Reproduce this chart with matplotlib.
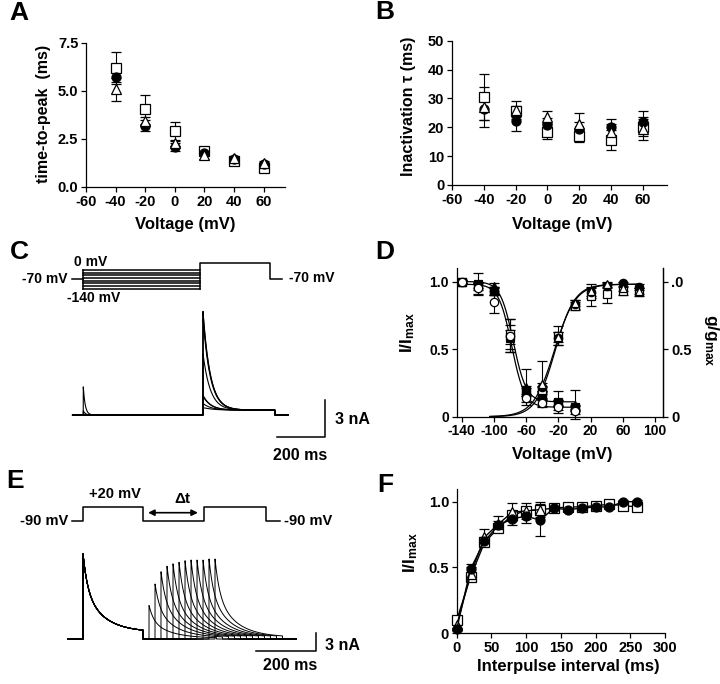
import numpy as np
import matplotlib
matplotlib.use('Agg')
import matplotlib.pyplot as plt

plt.rcParams['font.family'] = 'Liberation Sans'
plt.rcParams['font.weight'] = 'bold'
plt.rcParams['axes.unicode_minus'] = False
plt.rcParams['mathtext.fontset'] = 'custom'
plt.rcParams['mathtext.rm'] = 'Liberation Sans:bold'
plt.rcParams['mathtext.it'] = 'Liberation Sans:bold'
plt.rcParams['mathtext.default'] = 'rm'

W, H = 720, 684

# ---------------- A: time-to-peak ----------------
volt_ab = [-40, -20, 0, 20, 40, 60]
ttp_circle = [5.75, 3.2, 2.1, 1.75, 1.45, 1.2]
ttp_circle_err = [0.3, 0.3, 0.2, 0.1, 0.1, 0.1]
ttp_square = [6.2, 4.05, 2.9, 1.85, 1.35, 1.0]
ttp_square_err = [0.85, 0.75, 0.5, 0.1, 0.1, 0.1]
ttp_triangle = [5.1, 3.45, 2.3, 1.65, 1.5, 1.25]
ttp_triangle_err = [0.6, 0.2, 0.15, 0.2, 0.1, 0.1]

# ---------------- B: inactivation tau ----------------
tau_circle = [26.5, 22.3, 20.8, 19.5, 20.0, 22.0]
tau_circle_err = [4.0, 3.7, 2.5, 2.5, 3.0, 3.8]
tau_square = [30.5, 25.5, 18.5, 17.0, 15.5, 20.0]
tau_square_err = [8.0, 2.0, 2.5, 2.0, 3.5, 3.0]
tau_triangle = [27.0, 26.0, 23.5, 21.0, 18.5, 19.5]
tau_triangle_err = [7.0, 3.0, 2.0, 3.8, 2.5, 4.0]

# ---------------- D: steady-state inactivation / activation ----------------
volt_inact = [-140, -120, -100, -80, -60, -40, -20, 0]
inact_osquare = [1.0, 0.97, 0.93, 0.61, 0.18, 0.15, 0.10, 0.06]
inact_osquare_err = [0.01, 0.03, 0.03, 0.11, 0.03, 0.03, 0.02, 0.02]
inact_fsquare = [1.0, 0.98, 0.93, 0.59, 0.19, 0.18, 0.11, 0.07]
inact_fsquare_err = [0.01, 0.08, 0.03, 0.05, 0.04, 0.04, 0.08, 0.02]
inact_ftriangle = [1.0, 0.97, 0.97, 0.58, 0.22, 0.16, 0.10, 0.09]
inact_ftriangle_err = [0.01, 0.02, 0.02, 0.10, 0.13, 0.03, 0.02, 0.11]
inact_ocircle = [1.0, 0.95, 0.85, 0.60, 0.14, 0.10, 0.07, 0.04]
inact_ocircle_err = [0.01, 0.04, 0.08, 0.12, 0.03, 0.02, 0.02, 0.02]
inact_vh = [-76, -78]
inact_k = [8, 8]
inact_floor = [0.11, 0.07]
inact_top = [1.0, 0.98]

volt_act = [-40, -20, 0, 20, 40, 60, 80]
act_fcircle = [0.22, 0.58, 0.83, 0.92, 0.97, 0.99, 0.96]
act_fcircle_err = [0.03, 0.05, 0.03, 0.03, 0.02, 0.01, 0.02]
act_osquare = [0.20, 0.60, 0.82, 0.89, 0.91, 0.93, 0.92]
act_osquare_err = [0.03, 0.07, 0.03, 0.07, 0.07, 0.03, 0.03]
act_otriangle = [0.24, 0.59, 0.84, 0.93, 0.98, 0.95, 0.93]
act_otriangle_err = [0.17, 0.04, 0.02, 0.05, 0.02, 0.02, 0.02]
act_vh = [-25, -24]
act_k = [13, 12]
act_top = [0.98, 0.98]

# ---------------- F: recovery from inactivation ----------------
interval_ms = [0, 20, 40, 60, 80, 100, 120, 140, 160, 180, 200, 220, 240, 260]
rec_square = [0.10, 0.43, 0.69, 0.80, 0.90, 0.93, 0.94, 0.95, 0.96, 0.96, 0.97, 0.98, 0.97, 0.96]
rec_square_err = [0.02, 0.03, 0.02, 0.02, 0.02, 0.02, 0.02, 0.01, 0.01, 0.01, 0.01, 0.01, 0.01, 0.01]
interval_tri = [0, 20, 40, 60, 80, 100, 120]
rec_triangle = [0.06, 0.45, 0.73, 0.83, 0.92, 0.93, 0.94]
rec_triangle_err = [0.02, 0.05, 0.06, 0.06, 0.07, 0.06, 0.06]
rec_circle = [0.03, 0.49, 0.70, 0.82, 0.87, 0.89, 0.86, 0.95, 0.94, 0.95, 0.96, 0.96, 1.0, 1.0]
rec_circle_err = [0.01, 0.04, 0.03, 0.03, 0.05, 0.05, 0.12, 0.01, 0.01, 0.01, 0.01, 0.01, 0.01, 0.01]

# ---------------- C: protocol and currents ----------------
c_hold = -70
c_cond_levels = [0, -20, -40, -60, -80, -100, -120, -140]
c_test_level = 50          # drawn level of the test step in the schematic
c_times = [-48, 0, 500, 800, 851]
c_cond_peak = [2.3, 0.35, 0.05, 0, 0, 0, 0, 0]      # nA
c_test_avail = [0.07, 0.11, 0.18, 0.19, 0.59, 0.93, 0.98, 1.0]
c_test_peak = 8.5          # nA
c_plateau = 0.4            # nA
c_tau_cond, c_tau_test, c_tau_rise = 8, 30, 25

# ---------------- E: protocol and currents ----------------
e_hold, e_step = -90, 20
e_times = [-37, 0, 200, 403, 610, 657]
e_dt = [20, 40, 60, 80, 100, 120, 140, 160, 180, 200, 220, 240]
e_ratio = [0.42, 0.69, 0.84, 0.91, 0.94, 0.96, 0.98, 0.99, 0.99, 0.99, 1.0, 1.0]
e_peak = 14.2              # nA
e_fast, e_slow = 0.40, 0.52
e_ss_first, e_ss_second = 0.08, 0.02
e_tau_fast, e_tau_slow = 15, 65
e_pulse_first, e_pulse_second = 200, 225

fig = plt.figure(figsize=(W / 100, H / 100), dpi=100)


def px_axes(x0, y0, x1, y1):
    return fig.add_axes([x0 / W, 1 - y1 / H, (x1 - x0) / W, (y1 - y0) / H])


def ftext(x, y, s, ha='center', va='center', **kw):
    fig.text(x / W, 1 - y / H, s, ha=ha, va=va, **kw)


def style(ax, right=False, size=10.5):
    ax.spines['top'].set_visible(False)
    ax.spines['right'].set_visible(right)
    for s in ax.spines.values():
        s.set_linewidth(0.9)
    ax.tick_params(direction='out', length=3.5, width=0.9, labelsize=size, pad=2)


MK = dict(
    circle=dict(marker='o', mfc='black', mec='black'),
    ocircle=dict(marker='o', mfc='white', mec='black'),
    square=dict(marker='s', mfc='white', mec='black'),
    fsquare=dict(marker='s', mfc='black', mec='black'),
    triangle=dict(marker='^', mfc='white', mec='black'),
    ftriangle=dict(marker='^', mfc='black', mec='black'),
)


def ebar(ax, x, y, e, kind, ms=6.5, ls='none'):
    ax.errorbar(x, y, yerr=e, ls=ls, color='black', lw=1, ms=ms, mew=0.9,
                ecolor='black', elinewidth=0.8, capsize=3.5, capthick=0.8,
                clip_on=False, zorder=3, **MK[kind])


def boltz(v, vh, k, lo, hi):
    return lo + (hi - lo) / (1 + np.exp((v - vh) / k))


# ---- A ----
axA = px_axes(86, 43, 285, 187)
style(axA)
ebar(axA, volt_ab, ttp_square, ttp_square_err, 'square')
ebar(axA, volt_ab, ttp_circle, ttp_circle_err, 'circle')
ebar(axA, volt_ab, ttp_triangle, ttp_triangle_err, 'triangle')
axA.set_xlim(-60, 74.5)
axA.set_ylim(0, 7.5)
axA.set_xticks([-60, -40, -20, 0, 20, 40, 60])
axA.set_yticks([0, 2.5, 5.0, 7.5])
axA.set_yticklabels(['0.0', '2.5', '5.0', '7.5'])
ftext(44, 114, 'time-to-peak  (ms)', rotation=90, fontsize=11.5)
ftext(185, 225, 'Voltage (mV)', fontsize=12)

# ---- B ----
axB = px_axes(452, 40.7, 666.7, 185)
style(axB)
ebar(axB, volt_ab, tau_square, tau_square_err, 'square')
ebar(axB, volt_ab, tau_circle, tau_circle_err, 'circle')
ebar(axB, volt_ab, tau_triangle, tau_triangle_err, 'triangle')
axB.set_xlim(-60, 75)
axB.set_ylim(0, 50)
axB.set_xticks([-60, -40, -20, 0, 20, 40, 60])
axB.set_yticks([0, 10, 20, 30, 40, 50])
ftext(409, 106, 'Inactivation \u03c4 (ms)', rotation=90, fontsize=11.5)
ftext(562, 225, 'Voltage (mV)', fontsize=12)

# ---- C protocol ----
axCp = px_axes(60, 250, 360, 300)
axCp.axis('off')
t0, t1, t2, t3, t4 = c_times
axCp.plot([t0, t1], [c_hold, c_hold], color='black', lw=1.1)
for lev in c_cond_levels:
    axCp.plot([t1, t2], [lev, lev], color='black', lw=1.1)
axCp.plot([t1, t1], [min(c_cond_levels), max(c_cond_levels)], color='black', lw=1.1)
axCp.plot([t2, t2, t3, t3, t4], [min(c_cond_levels), c_test_level, c_test_level, c_hold, c_hold],
          color='black', lw=1.1)
axCp.set_xlim(-99.8, 1185.5)
axCp.set_ylim(-222.5, 145.9)
ftext(74, 262, '0 mV', ha='left', fontsize=10)
ftext(67, 279, '-70 mV', ha='right', fontsize=10)
ftext(67, 298, '-140 mV', ha='left', fontsize=10)
ftext(289, 278, '-70 mV', ha='left', fontsize=10)

# ---- C currents ----
axC = px_axes(60, 290, 360, 470)
axC.axis('off')
tc = np.linspace(-45, 855, 4000)
for a_cond, avail in zip(c_cond_peak, c_test_avail):
    cur = np.zeros_like(tc)
    m1 = (tc >= t1) & (tc < t2)
    cur[m1] = a_cond * np.exp(-(tc[m1] - t1) / c_tau_cond)
    m2 = (tc >= t2) & (tc < t3)
    s = tc[m2] - t2
    cur[m2] = c_test_peak * avail * np.exp(-s / c_tau_test) + c_plateau * (1 - np.exp(-s / c_tau_rise))
    axC.plot(tc, cur, color='black', lw=0.8)
axC.plot([810, 1010, 1010], [-1.8, -1.8, 1.2], color='black', lw=1.1)
axC.set_xlim(-97.3, 1155.8)
axC.set_ylim(-4.5, 10.22)
ftext(335, 420, '3 nA', ha='left', fontsize=11.5)
ftext(300, 455, '200 ms', fontsize=11.5)

# ---- D ----
axD = px_axes(456.7, 268, 663.3, 416.7)
style(axD, right=True, size=10)
vi = np.linspace(-140, 0, 300)
for vh, k, lo, hi in zip(inact_vh, inact_k, inact_floor, inact_top):
    axD.plot(vi, boltz(vi, vh, k, lo, hi), color='black', lw=0.9)
va = np.linspace(-105, 80, 300)
for vh, k, hi in zip(act_vh, act_k, act_top):
    axD.plot(va, boltz(va, vh, -k, 0, hi), color='black', lw=0.9)
ebar(axD, volt_inact, inact_osquare, inact_osquare_err, 'square', ms=6)
ebar(axD, volt_inact, inact_fsquare, inact_fsquare_err, 'fsquare', ms=6)
ebar(axD, volt_inact, inact_ftriangle, inact_ftriangle_err, 'ftriangle', ms=6)
ebar(axD, volt_inact, inact_ocircle, inact_ocircle_err, 'ocircle', ms=6)
ebar(axD, volt_act, act_osquare, act_osquare_err, 'square', ms=6)
ebar(axD, volt_act, act_fcircle, act_fcircle_err, 'circle', ms=6)
ebar(axD, volt_act, act_otriangle, act_otriangle_err, 'triangle', ms=6)
axD.set_xlim(-146.2, 110.1)
axD.set_ylim(0, 1.10)
axD.set_xticks([-140, -100, -60, -20, 20, 60, 100])
axD.set_yticks([0, 0.5, 1.0])
axD.set_yticklabels(['0', '0.5', '1.0'])
axD2 = axD.twinx()
axD2.set_ylim(0, 1.10)
style(axD2, right=True, size=10.5)
axD2.spines['left'].set_visible(False)
axD2.spines['bottom'].set_visible(False)
axD2.set_yticks([0, 0.5, 1.0])
axD2.set_yticklabels(['0', '0.5', '.0'])
ftext(408, 333, 'I/I$_{max}$', rotation=90, fontsize=12.5)
ftext(711, 340, 'g/g$_{max}$', rotation=270, fontsize=12.5)
ftext(562, 455, 'Voltage (mV)', fontsize=12)

# ---- E protocol ----
axEp = px_axes(60, 480, 360, 530)
axEp.axis('off')
ex, ey = [], []
levels_e = [e_hold, e_step, e_hold, e_step, e_hold]
for i, lev in enumerate(levels_e):
    ex += [e_times[i], e_times[i + 1]]
    ey += [lev, lev]
axEp.plot(ex, ey, color='black', lw=1.1)
axEp.annotate('', xy=(e_times[3] - 20, -27), xytext=(e_times[2] + 17, -27),
              arrowprops=dict(arrowstyle='<|-|>', color='black', lw=1.2,
                              mutation_scale=9, shrinkA=0, shrinkB=0))
axEp.set_xlim(-76.7, 923.3)
axEp.set_ylim(-163.2, 230.5)
ftext(68, 521, '-90 mV', ha='right', fontsize=10.5)
ftext(284, 521, '-90 mV', ha='left', fontsize=10.5)
ftext(115, 494, '+20 mV', fontsize=10.5)
ftext(182, 499, '\u0394t', fontsize=11)

# ---- E currents ----
axE = px_axes(60, 540, 360, 680)
axE.axis('off')
te = np.linspace(-50, 710, 6000)


def inact_shape(s, ss):
    return e_fast * np.exp(-s / e_tau_fast) + e_slow * np.exp(-s / e_tau_slow) + ss


for dt, r in zip(e_dt, e_ratio):
    cur = np.zeros_like(te)
    m1 = (te >= 0) & (te < e_pulse_first)
    cur[m1] = e_peak * inact_shape(te[m1], e_ss_first)
    ts = e_pulse_first + dt
    m2 = (te >= ts) & (te < ts + e_pulse_second)
    cur[m2] = e_peak * r * inact_shape(te[m2] - ts, e_ss_second)
    axE.plot(te, cur, color='black', lw=0.7)
axE.plot([576.7, 776.7, 776.7], [-1.95, -1.95, 1.05], color='black', lw=1.1)
axE.set_xlim(-76.7, 923.3)
axE.set_ylim(-6.83, 16.5)
ftext(325, 645, '3 nA', ha='left', fontsize=11.5)
ftext(290, 665, '200 ms', fontsize=11.5)

# ---- F ----
axF = px_axes(456.7, 489.3, 665, 633.3)
style(axF)
ebar(axF, interval_ms, rec_square, rec_square_err, 'square', ls='-')
ebar(axF, interval_tri, rec_triangle, rec_triangle_err, 'triangle', ls='-')
ebar(axF, interval_ms, rec_circle, rec_circle_err, 'circle', ls='-')
axF.set_xlim(0, 300)
axF.set_ylim(0, 1.094)
axF.set_xticks([0, 50, 100, 150, 200, 250, 300])
axF.set_yticks([0, 0.5, 1.0])
axF.set_yticklabels(['0', '0.5', '1.0'])
ftext(411, 553, 'I/I$_{max}$', rotation=90, fontsize=12.5)
ftext(568, 666, 'Interpulse interval (ms)', fontsize=12)

# panel letters
for letter, (x, y) in zip('ABCDEF', [(19, 13), (385, 12), (19, 252), (385, 252), (15, 481), (385, 485)]):
    ftext(x, y, letter, fontsize=19)

fig.savefig('out.png', dpi=100)
